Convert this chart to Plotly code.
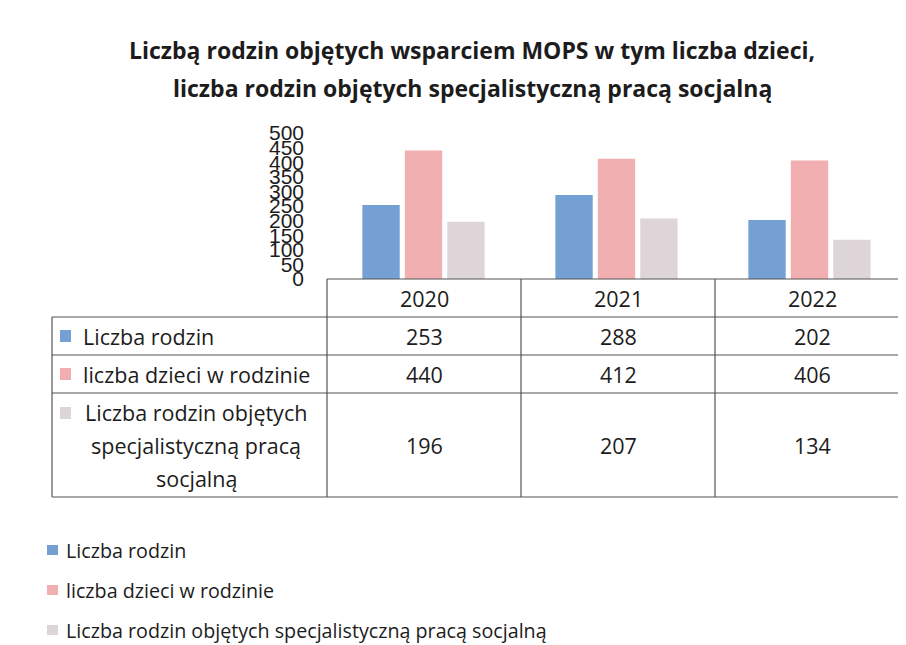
import plotly.graph_objects as go

# ---- data ----
years = ["2020", "2021", "2022"]
series_names = [
    "Liczba rodzin",
    "liczba dzieci w rodzinie",
    "Liczba rodzin objętych specjalistyczną pracą socjalną",
]
table_row_labels = [
    "Liczba rodzin",
    "liczba dzieci w rodzinie",
    "Liczba rodzin objętych<br>specjalistyczną pracą<br>socjalną",
]
liczba_rodzin = [253, 288, 202]
liczba_dzieci = [440, 412, 406]
rodziny_specjalistyczna = [196, 207, 134]
series_values = [liczba_rodzin, liczba_dzieci, rodziny_specjalistyczna]
colors = ["#74a0d4", "#f1afb2", "#ddd5d7"]
title_lines = [
    "Liczbą rodzin objętych wsparciem MOPS w tym liczba dzieci,",
    "liczba rodzin objętych specjalistyczną pracą socjalną",
]

W, H = 906, 645
OFF = 8  # page body margin in the browser
# plot area in screen px (reference coordinates)
PL, PR, PT, PB = 327, 906, 133, 279

def px(x):
    return (x - PL) / (PR - PL)

def py(y):
    return (PB - y) / (PB - PT)

FONT = "Open Sans"
TXT = "#1c1c1c"
TS = 21.5

fig = go.Figure()
for i, (name, vals) in enumerate(zip(series_names, series_values)):
    fig.add_trace(go.Bar(
        x=years, y=vals, name=name,
        marker=dict(color=colors[i], line=dict(width=0)),
        showlegend=False,
    ))

shapes = []
annotations = []
line_style = dict(color="#555555", width=1.2)

col_edges = [327, 521, 715, 909]
row_edges = [279, 317, 355, 393, 497]
left_x = 52

shapes.append(dict(type="line", xref="paper", yref="paper", x0=px(327), x1=px(912),
                   y0=py(279), y1=py(279), line=line_style))
for ry in row_edges[1:]:
    shapes.append(dict(type="line", xref="paper", yref="paper", x0=px(left_x), x1=px(912),
                       y0=py(ry), y1=py(ry), line=line_style))
for cx in col_edges[:3]:
    shapes.append(dict(type="line", xref="paper", yref="paper", x0=px(cx), x1=px(cx),
                       y0=py(279), y1=py(497), line=line_style))
shapes.append(dict(type="line", xref="paper", yref="paper", x0=px(left_x), x1=px(left_x),
                   y0=py(317), y1=py(497), line=line_style))

for j, yr in enumerate(years):
    cx = (col_edges[j] + col_edges[j + 1]) / 2
    annotations.append(dict(text=yr, xref="paper", yref="paper", x=px(cx), y=py(298),
                            showarrow=False, xanchor="center", yanchor="middle",
                            font=dict(family=FONT, size=TS, color=TXT)))

for r, (lab, vals) in enumerate(zip(table_row_labels, series_values)):
    ry = (row_edges[r + 1] + row_edges[r + 2]) / 2
    for j, v in enumerate(vals):
        cx = (col_edges[j] + col_edges[j + 1]) / 2
        annotations.append(dict(text=str(v), xref="paper", yref="paper", x=px(cx), y=py(ry),
                                showarrow=False, xanchor="center", yanchor="middle",
                                font=dict(family=FONT, size=TS, color=TXT)))
    if r < 2:
        annotations.append(dict(text=lab, xref="paper", yref="paper", x=px(81), y=py(ry),
                                showarrow=False, xanchor="left", yanchor="middle",
                                font=dict(family=FONT, size=TS, color=TXT)))
        my = ry
    else:
        parts = lab.split("<br>")
        for k, part in enumerate(parts):
            annotations.append(dict(text=part, xref="paper", yref="paper", x=px(196),
                                    y=py(ry + (k - (len(parts) - 1) / 2) * 33),
                                    showarrow=False, xanchor="center", yanchor="middle",
                                    font=dict(family=FONT, size=TS, color=TXT)))
        my = 413
    shapes.append(dict(type="rect", xref="paper", yref="paper",
                       x0=px(60), x1=px(71), y0=py(my - 6), y1=py(my + 6),
                       fillcolor=colors[r], line=dict(width=0)))

# legend (drawn manually below the table)
legend_y = [550, 590, 630]
for i, name in enumerate(series_names):
    shapes.append(dict(type="rect", xref="paper", yref="paper",
                       x0=px(47), x1=px(58), y0=py(legend_y[i] - 5), y1=py(legend_y[i] + 5),
                       fillcolor=colors[i], line=dict(width=0)))
    annotations.append(dict(text=name, xref="paper", yref="paper", x=px(64), y=py(legend_y[i]),
                            showarrow=False, xanchor="left", yanchor="middle",
                            font=dict(family=FONT, size=19.7, color=TXT)))

for k, t in enumerate(title_lines):
    annotations.append(dict(text="<b>" + t + "</b>", xref="paper", yref="paper",
                            x=px(472), y=py(50 + 38 * k), showarrow=False,
                            xanchor="center", yanchor="middle",
                            font=dict(family=FONT, size=23, color=TXT)))

fig.update_layout(
    width=W, height=H,
    paper_bgcolor="white", plot_bgcolor="white",
    margin=dict(l=PL - OFF, r=W - (PR - OFF), t=PT - OFF, b=H - (PB - OFF), pad=0,
                autoexpand=False),
    barmode="group", bargap=0.34, bargroupgap=0.12,
    showlegend=False,
    xaxis=dict(showticklabels=False, showgrid=False, zeroline=False, showline=False,
               ticks="", range=[-0.5, 2.5], automargin=False),
    yaxis=dict(range=[0, 500], dtick=50, showgrid=False, zeroline=False, showline=False,
               ticks="", ticklabelstandoff=22, automargin=False,
               tickfont=dict(family="Liberation Sans", size=21, color=TXT)),
    shapes=shapes,
    annotations=annotations,
)

fig.write_html("out.html")
